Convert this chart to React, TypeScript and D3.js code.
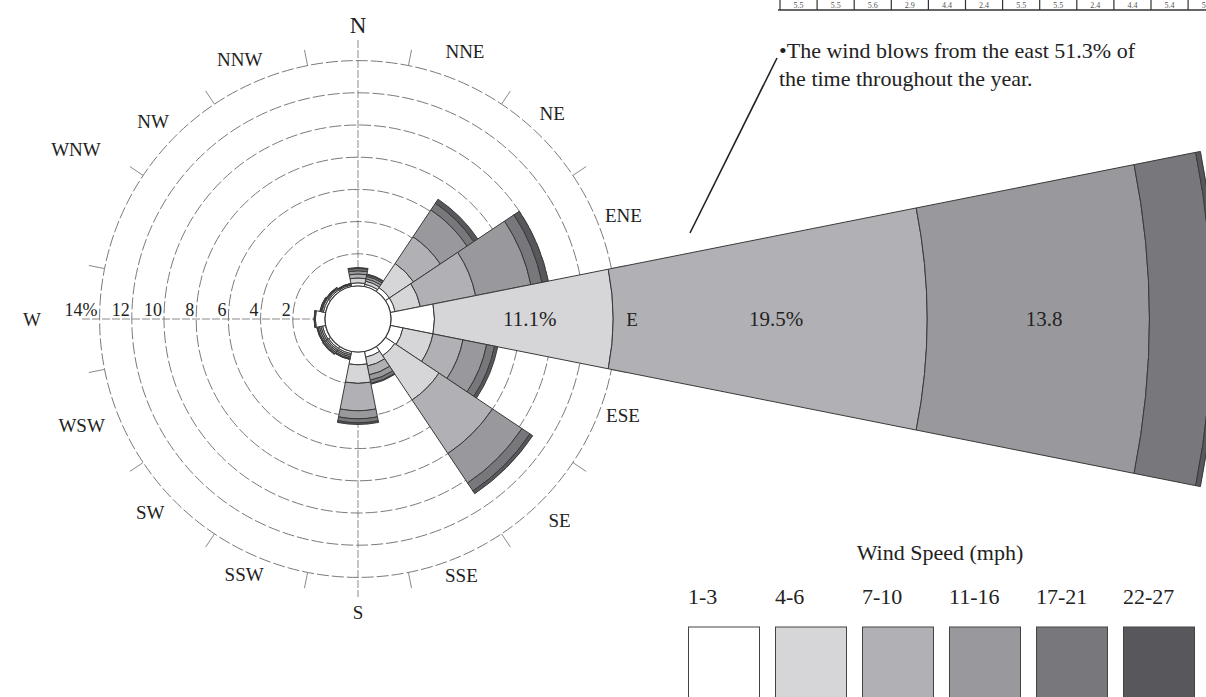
import React from 'react';
import * as d3 from 'd3';

// wind rose: percent of the year by direction and speed band
const directions = ['N', 'NNE', 'NE', 'ENE', 'E', 'ESE', 'SE', 'SSE', 'S', 'SSW', 'SW', 'WSW', 'W', 'WNW', 'NW', 'NNW'];
const speedBins = ['1-3', '4-6', '7-10', '11-16', '17-21', '22-27'];

const speed1to3 = [0.2, 0.15, 0.3, 0.3, 2.7, 0.8, 0.7, 0.37, 0.8, 0.15, 0.15, 0.2, 0.6, 0.15, 0.12, 0.1];
const speed4to6 = [0.3, 0.2, 1.8, 1.6, 11.1, 1.9, 3.3, 0.56, 1.15, 0.1, 0.1, 0.1, 0.05, 0.1, 0.08, 0.05];
const speed7to10 = [0.25, 0.15, 2.0, 3.5, 19.5, 1.9, 4.0, 0.56, 1.7, 0.1, 0.1, 0.1, 0.02, 0.05, 0.05, 0.03];
const speed11to16 = [0.2, 0.15, 2.0, 3.5, 13.8, 1.5, 2.2, 0.34, 0.5, 0.1, 0.1, 0.1, 0.01, 0.05, 0.05, 0.02];
const speed17to21 = [0.15, 0.1, 0.5, 0.7, 3.9, 0.5, 0.6, 0.2, 0.25, 0.05, 0.1, 0.05, 0, 0.02, 0.02, 0.01];
const speed22to27 = [0.05, 0.05, 0.3, 0.4, 0.3, 0.2, 0.2, 0.05, 0.1, 0.02, 0.05, 0.02, 0, 0, 0, 0];
const series = [speed1to3, speed4to6, speed7to10, speed11to16, speed17to21, speed22to27];

const ringTicks = [2, 4, 6, 8, 10, 12, 14];
// labels written inside the east petal (bin index -> text)
const eastLabels: [number, string][] = [[1, '11.1%'], [2, '19.5%'], [3, '13.8']];

// monthly table cut off at the top of the page
const monthValues = ['5.5', '5.5', '5.6', '2.9', '4.4', '2.4', '5.5', '5.5', '2.4', '4.4', '5.4', '5.5'];

const colors = ['#ffffff', '#d6d6d9', '#b1b1b5', '#99999d', '#78787c', '#58585c'];

const W = 1206;
const H = 697;
const cx = 358;
const cy = 319;
const hub = 33;

const r = d3.scaleLinear().domain([0, 14]).range([hub, 258.4]);
const rad = (deg: number) => (deg * Math.PI) / 180;
const polar = (bearing: number, radius: number): [number, number] => [
    cx + radius * Math.sin(rad(bearing)),
    cy - radius * Math.cos(rad(bearing)),
];

const labelPlacement: Record<string, { b?: number; r?: number; size?: number }> = {
    N: { r: 294, size: 23 },
    NNE: { b: 21.8, r: 288 },
    NE: { b: 43.3, r: 283 },
    ENE: { b: 68.6, r: 285 },
    E: { r: 274 },
    ESE: { b: 110, r: 282 },
    SSE: { b: 158, r: 276 },
    S: { r: 293 },
    SSW: { b: 204, r: 280 },
    SW: { b: 227, r: 284 },
    WSW: { b: 249, r: 296 },
    W: { r: 326 },
    WNW: { b: 301, r: 329 },
    NW: { b: 314, r: 285 },
    NNW: { b: 335.5, r: 285 },
};

const arc = d3.arc<{ r0: number; r1: number; a0: number; a1: number }>()
    .innerRadius(d => d.r0)
    .outerRadius(d => d.r1)
    .startAngle(d => d.a0)
    .endAngle(d => d.a1);

function App() {
    const step = 360 / directions.length;

    const petals = directions.map((dir, i) => {
        const vals = series.map(s => s[i]);
        const cum = [0, ...Array.from(d3.cumsum(vals))];
        const a0 = rad(i * step - step / 2);
        const a1 = rad(i * step + step / 2);
        return { dir, vals, cum, a0, a1 };
    });

    const east = petals[directions.indexOf('E')];

    const font = '"Liberation Serif", "Times New Roman", serif';
    const cellW = 37.1;

    return (
        <div style={{ position: 'absolute', left: 0, top: 0 }}>
            <svg width={W} height={H} style={{ display: 'block', background: '#fff' }} fontFamily={font}>
                {/* month table (cut off) */}
                <g>
                    {monthValues.map((v, i) => (
                        <g key={i}>
                            <line x1={780 + i * cellW} x2={780 + i * cellW} y1={0} y2={10} stroke="#333" strokeWidth={1.2} />
                            <text x={780 + i * cellW + cellW / 2} y={8} fontSize={8} textAnchor="middle" fill="#555">{v}</text>
                        </g>
                    ))}
                    <line x1={778} x2={W} y1={10} y2={10} stroke="#333" strokeWidth={1.6} />
                </g>

                {/* axes */}
                <line x1={cx} x2={cx} y1={cy - 279} y2={cy + 278} stroke="#8a8a8a" strokeWidth={1} strokeDasharray="8 2" />
                <line x1={cx - 276} x2={cx + 276} y1={cy} y2={cy} stroke="#8a8a8a" strokeWidth={1} strokeDasharray="8 2" />

                {/* rings */}
                {ringTicks.map(t => (
                    <circle key={t} cx={cx} cy={cy} r={r(t)} fill="none" stroke="#7a7a7a" strokeWidth={1} strokeDasharray="12 3" />
                ))}

                {/* ticks between compass points */}
                {directions.map((_, i) => {
                    const b = i * step + step / 2;
                    const [x1, y1] = polar(b, r(14));
                    const [x2, y2] = polar(b, r(14) + 16);
                    return <line key={i} x1={x1} y1={y1} x2={x2} y2={y2} stroke="#8a8a8a" strokeWidth={1} />;
                })}

                {/* petals */}
                <g transform={`translate(${cx},${cy})`}>
                    {petals.map(p => (
                        <g key={p.dir}>
                            {p.vals.map((v, k) => v > 0 ? (
                                <path
                                    key={k}
                                    d={arc({ r0: r(p.cum[k]), r1: r(p.cum[k + 1]), a0: p.a0, a1: p.a1 }) || ''}
                                    fill={colors[k]}
                                    stroke="#3a3a3a"
                                    strokeWidth={1}
                                />
                            ) : null)}
                        </g>
                    ))}
                    <circle r={hub} fill="#fff" stroke="#3a3a3a" strokeWidth={1.2} />
                </g>

                {/* values written in the east petal */}
                {eastLabels.map(([k, txt]) => {
                    const rm = (r(east.cum[k]) + r(east.cum[k + 1])) / 2;
                    return (
                        <text key={k} x={cx + rm + 6} y={cy + 7} fontSize={21} textAnchor="middle" fill="#222">{txt}</text>
                    );
                })}

                {/* radial labels */}
                {ringTicks.map(t => (
                    <text key={t} x={cx - r(t) - 2} y={cy - 3} fontSize={18} textAnchor="end" fill="#222">
                        {t === 14 ? `${t}%` : t}
                    </text>
                ))}

                {/* compass labels */}
                {directions.map((d, i) => {
                    const pl = labelPlacement[d] || {};
                    const [x, y] = polar(pl.b ?? i * step, pl.r ?? 285);
                    return (
                        <text key={d} x={x} y={y} dy="0.35em" fontSize={pl.size ?? 19} textAnchor="middle" fill="#222">{d}</text>
                    );
                })}

                {/* annotation */}
                <line x1={690} y1={233} x2={777} y2={58} stroke="#222" strokeWidth={1.6} />
                <text x={779} y={58} fontSize={22} fill="#222">•The wind blows from the east 51.3% of</text>
                <text x={779} y={86} fontSize={22} fill="#222">the time throughout the year.</text>

                {/* legend */}
                <text x={940} y={560} fontSize={22} textAnchor="middle" fill="#222">Wind Speed (mph)</text>
                {speedBins.map((s, k) => (
                    <g key={s} transform={`translate(${688 + k * 87},0)`}>
                        <text x={0} y={604} fontSize={22} fill="#222">{s}</text>
                        <rect x={0.5} y={627} width={71} height={71} fill={colors[k]} stroke="#444" strokeWidth={1} />
                    </g>
                ))}
            </svg>
        </div>
    );
}

export default App;
